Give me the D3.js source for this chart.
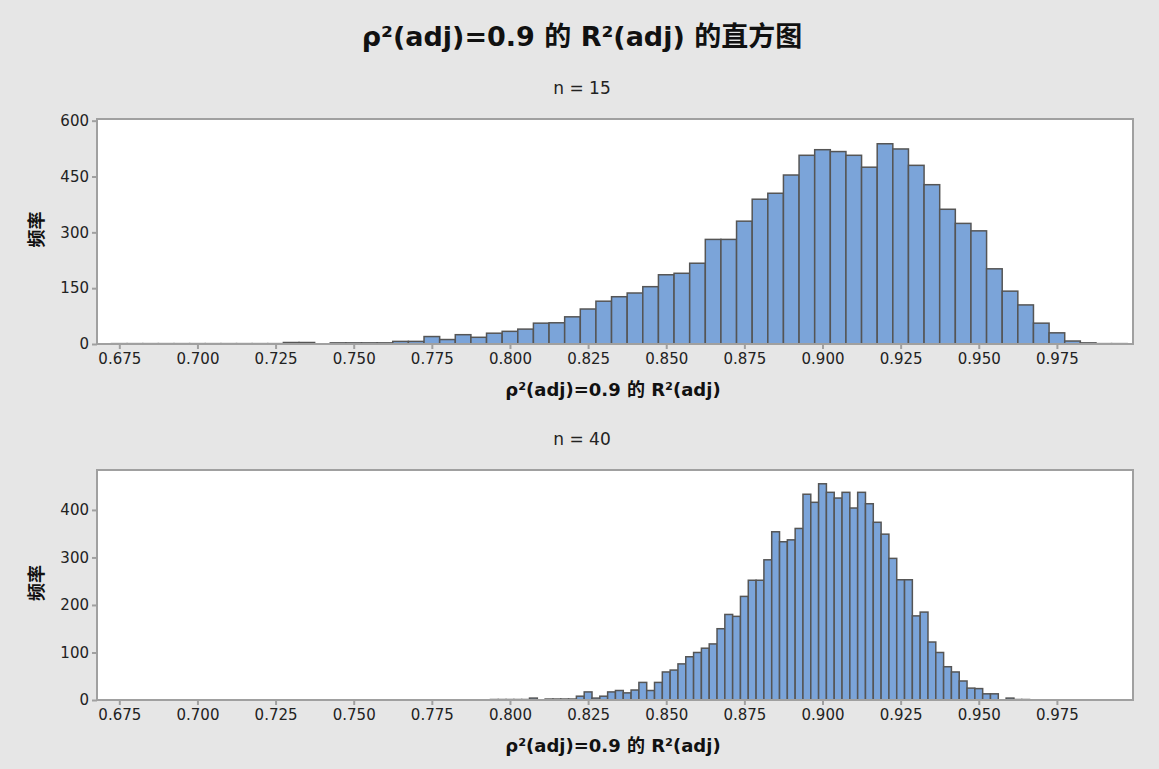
<!DOCTYPE html>
<html><head><meta charset="utf-8">
<script src="https://cdn.jsdelivr.net/npm/d3@7"></script>
<style>
html,body{margin:0;padding:0;background:#e6e6e6;}
text{font-family:"DejaVu Sans","Noto Sans CJK SC",sans-serif;}
</style></head>
<body>
<svg id="chart" width="1159" height="769"></svg>
<script>
const title = "ρ²(adj)=0.9 的 R²(adj) 的直方图";
const xLabel = "ρ²(adj)=0.9 的 R²(adj)";
const yLabel = "频率";
const xTicks = [0.675,0.700,0.725,0.750,0.775,0.800,0.825,0.850,0.875,0.900,0.925,0.950,0.975];

// Panel 1: n = 15, bin width 0.005 (midpoints)
const mids15 = [0.675,0.680,0.685,0.690,0.695,0.700,0.705,0.710,0.715,0.720,0.725,0.730,0.735,0.740,0.745,0.750,0.755,0.760,0.765,0.770,0.775,0.780,0.785,0.790,0.795,0.800,0.805,0.810,0.815,0.820,0.825,0.830,0.835,0.840,0.845,0.850,0.855,0.860,0.865,0.870,0.875,0.880,0.885,0.890,0.895,0.900,0.905,0.910,0.915,0.920,0.925,0.930,0.935,0.940,0.945,0.950,0.955,0.960,0.965,0.970,0.975,0.980,0.985,0.990,0.995];
const counts15 = [1,1,1,1,1,1,1,1,1,1,1,4,4,0,3,3,3,3,7,7,20,12,25,18,29,34,40,56,57,73,94,115,127,137,154,186,190,217,281,281,330,389,405,454,507,522,517,507,475,538,524,480,428,362,324,304,202,142,105,56,30,8,3,1,1];
const yTicks15 = [0,150,300,450,600];

// Panel 2: n = 40, bin width 0.0025 (midpoints)
const mids40 = [0.7950,0.7975,0.8000,0.8025,0.8050,0.8075,0.8100,0.8125,0.8150,0.8175,0.8200,0.8225,0.8250,0.8275,0.8300,0.8325,0.8350,0.8375,0.8400,0.8425,0.8450,0.8475,0.8500,0.8525,0.8550,0.8575,0.8600,0.8625,0.8650,0.8675,0.8700,0.8725,0.8750,0.8775,0.8800,0.8825,0.8850,0.8875,0.8900,0.8925,0.8950,0.8975,0.9000,0.9025,0.9050,0.9075,0.9100,0.9125,0.9150,0.9175,0.9200,0.9225,0.9250,0.9275,0.9300,0.9325,0.9350,0.9375,0.9400,0.9425,0.9450,0.9475,0.9500,0.9525,0.9550,0.9575,0.9600,0.9625,0.9650];
const counts40 = [1,1,1,1,1,4,0,2,2,2,2,8,17,4,8,17,20,15,21,37,20,37,59,63,76,91,100,109,118,150,180,176,218,252,252,295,354,333,337,361,433,416,455,437,425,437,404,437,413,374,349,298,253,253,177,185,122,100,70,59,40,25,24,13,13,0,4,1,1];
const yTicks40 = [0,100,200,300,400];

const FONT = '"DejaVu Sans","Noto Sans CJK SC",sans-serif';
const svg = d3.select("#chart");
const W = 1159;
svg.append("rect").attr("width",W).attr("height",769).attr("fill","#e6e6e6");

svg.append("text").attr("x",582).attr("y",46).attr("text-anchor","middle")
  .attr("font-size",27).attr("font-weight","bold").attr("fill","#111").text(title);

const left = 97, right = 1133;
const x = d3.scaleLinear().domain([0.66786, 0.99935]).range([left, right]);

function panel(cfg){
  const y = d3.scaleLinear().domain([0, cfg.ymax]).range([cfg.bottom, cfg.top]);
  const g = svg.append("g");
  g.append("text").attr("x",582).attr("y",cfg.top-25).attr("text-anchor","middle")
    .attr("font-size",17).attr("fill","#222").text(cfg.sub);
  g.append("rect").attr("x",left).attr("y",cfg.top).attr("width",right-left).attr("height",cfg.bottom-cfg.top)
    .attr("fill","#fff");
  const data = cfg.mids.map((m,i)=>({m, c: cfg.counts[i]})).filter(d=>d.c>0);
  g.selectAll("rect.bar").data(data).join("rect").attr("class","bar")
    .attr("x",d=>x(d.m - cfg.w/2)).attr("width",d=>x(d.m + cfg.w/2)-x(d.m - cfg.w/2))
    .attr("y",d=>y(d.c)).attr("height",d=>y(0)-y(d.c))
    .attr("fill","#7BA4D9").attr("stroke","#555").attr("stroke-width",1.5);
  g.append("rect").attr("x",left).attr("y",cfg.top).attr("width",right-left).attr("height",cfg.bottom-cfg.top)
    .attr("fill","none").attr("stroke","#a0a0a0").attr("stroke-width",2);
  const ya = d3.axisLeft(y).tickValues(cfg.yTicks).tickSize(5).tickPadding(3).tickFormat(d3.format("d"));
  const yg = g.append("g").attr("transform",`translate(${left},0)`).call(ya);
  const xa = d3.axisBottom(x).tickValues(xTicks).tickSize(5).tickPadding(4).tickFormat(d3.format(".3f"));
  const xg = g.append("g").attr("transform",`translate(0,${cfg.bottom})`).call(xa);
  [yg,xg].forEach(a=>{
    a.select(".domain").remove();
    a.selectAll(".tick line").attr("stroke","#a0a0a0").attr("stroke-width",2);
    a.selectAll(".tick text").attr("font-size",15).attr("fill","#222").style("font-family",FONT);
  });
  g.append("text").attr("x",(left+right)/2 - 2).attr("y",cfg.bottom+52).attr("text-anchor","middle")
    .attr("font-size",18).attr("font-weight","bold").attr("fill","#111").text(xLabel);
  g.append("text").attr("transform",`translate(43,${(cfg.top+cfg.bottom)/2 - 2}) rotate(-90)`)
    .attr("text-anchor","middle").attr("font-size",18).attr("font-weight","bold").attr("fill","#111").text(yLabel);
}

panel({sub:"n = 15", top:119, bottom:344, ymax:604.5, mids:mids15, counts:counts15, w:0.005, yTicks:yTicks15});
panel({sub:"n = 40", top:470, bottom:700, ymax:484, mids:mids40, counts:counts40, w:0.0025, yTicks:yTicks40});
</script>
</body></html>
